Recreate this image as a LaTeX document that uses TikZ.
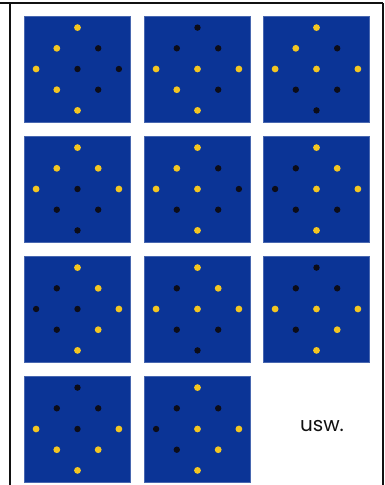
\documentclass[tikz,border=0pt]{standalone}
\usepackage{fontspec}
\setmainfont{Poppins}
\usepackage{xcolor}
\usepackage{tikz}
\usetikzlibrary{positioning,calc}
\definecolor{TileBlue}{HTML}{0B3496}
\definecolor{DotGold}{HTML}{F3C622}
\definecolor{DotDark}{HTML}{0C0C18}
\definecolor{FrameInk}{HTML}{111111}

\begin{document}
\begin{tikzpicture}[x=1pt,y=-1pt,
  tile/.style={rectangle,draw=TileBlue!75!white,fill=TileBlue,line width=0.5pt,
               minimum size=106pt,inner sep=0pt},
  gdot/.style={circle,fill=DotGold,minimum size=6.8pt,inner sep=0pt},
  kdot/.style={circle,fill=DotDark,minimum size=6.4pt,inner sep=0pt},
  frame/.style={line width=1.8pt,FrameInk}]
\useasboundingbox (0,0) rectangle (385,485);
% frame
\draw[frame] (0,3) -- (383.3,3);
\draw[frame] (10,3) -- (10,485);
\draw[frame] (383.3,3) -- (383.3,485);
% tiles: T, UL, UR, L, C, R, LL, LR, B
\foreach \nm/\cx/\cy/\pat in {
  a/77.5/69/{g,g,k,g,k,k,g,k,g},
  b/197.5/69/{k,k,k,g,g,g,g,k,g},
  c/316.5/69/{g,g,k,g,g,g,k,k,k},
  d/77.5/189/{g,g,g,g,k,g,k,k,k},
  e/197.5/189/{g,g,k,g,g,k,k,k,g},
  f/316.5/189/{g,k,g,k,g,g,k,k,g},
  h/77.5/309/{g,k,g,k,k,g,k,g,g},
  i/197.5/309/{g,k,g,g,g,g,k,k,k},
  j/316.5/309/{k,k,k,g,g,g,k,g,g},
  l/77.5/429/{k,k,k,g,k,g,g,g,g},
  m/197.5/429/{g,k,k,k,g,g,k,g,g}} {
  \node[tile] (\nm) at (\cx,\cy) {};
  \foreach \c [count=\i] in \pat {
    \pgfmathsetmacro\dx{{0,-1,1,-2,0,2,-1,1,0}[\i-1]}
    \pgfmathsetmacro\dy{{-2,-1,-1,0,0,0,1,1,2}[\i-1]}
    \node[\c dot] (\nm\i) at ($(\nm)+(20.7*\dx,20.7*\dy)$) {};
  }
}
\node[font=\fontsize{20}{24}\selectfont,text=FrameInk] (etc) at (322,426) {usw.};
\end{tikzpicture}
\end{document}
